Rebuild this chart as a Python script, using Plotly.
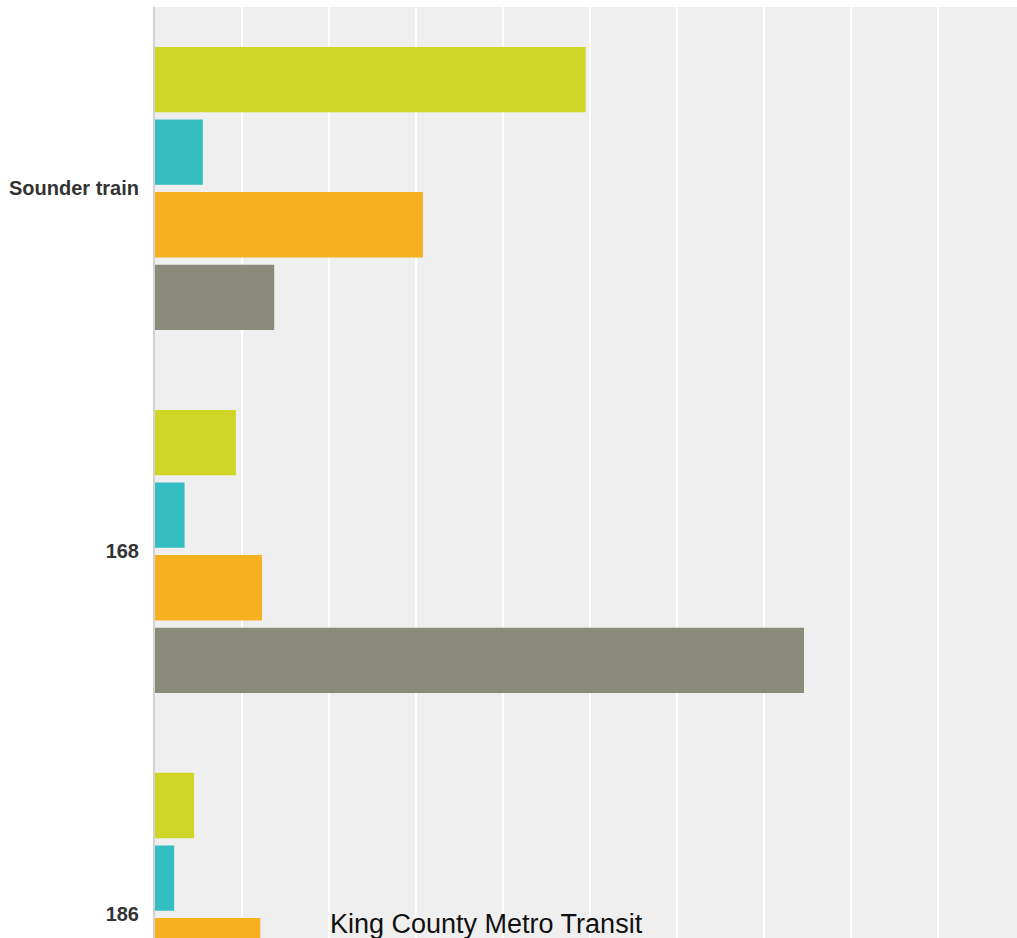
import plotly.graph_objects as go

categories = ["Sounder train", "168", "186"]
series_names = ["Series 1", "Series 2", "Series 3", "Series 4"]
values_s1 = [49.5, 9.3, 4.5]
values_s2 = [5.5, 3.4, 2.2]
values_s3 = [30.8, 12.3, 12.1]
values_s4 = [13.7, 74.6, None]
colors = ["#CFD628", "#35BEC1", "#F7B020", "#8A8B7A"]
note_text = "King County Metro Transit"

fig = go.Figure()
for name, vals, col in zip(series_names, [values_s1, values_s2, values_s3, values_s4], colors):
    fig.add_trace(go.Bar(
        y=categories, x=vals, orientation="h", name=name,
        marker=dict(color=col, line=dict(width=0)),
        hoverinfo="x+y",
    ))

fig.update_layout(
    width=1017, height=938,
    margin=dict(l=155, r=0, t=7, b=0),
    paper_bgcolor="white",
    plot_bgcolor="#EFEFEF",
    barmode="group",
    bargap=0.2,
    bargroupgap=0.1,
    showlegend=False,
    font=dict(family="Liberation Sans, Arial, sans-serif"),
    xaxis=dict(
        range=[0, 99.08], dtick=10, showticklabels=False,
        showgrid=True, gridcolor="white", gridwidth=2,
        zeroline=False, showline=False, ticks="",
    ),
    yaxis=dict(
        type="category", range=[2.065, -0.5],
        showgrid=False, zeroline=False,
        showline=True, linecolor="#D2D2D2", linewidth=2,
        ticks="", ticklabelstandoff=10,
        tickfont=dict(size=20, color="#333333", family="Liberation Sans, Arial, sans-serif", weight="bold"),
    ),
    annotations=[dict(
        text=note_text, xref="paper", yref="paper", x=0.385, y=0,
        xanchor="center", yanchor="bottom", yshift=-3, showarrow=False,
        font=dict(size=27, color="#111111", family="Liberation Sans, Arial, sans-serif"),
    )],
)

fig.write_html(
    "out.html",
    config={"displayModeBar": False},
    post_script="document.body.style.margin='0';document.body.style.overflow='hidden';",
)
